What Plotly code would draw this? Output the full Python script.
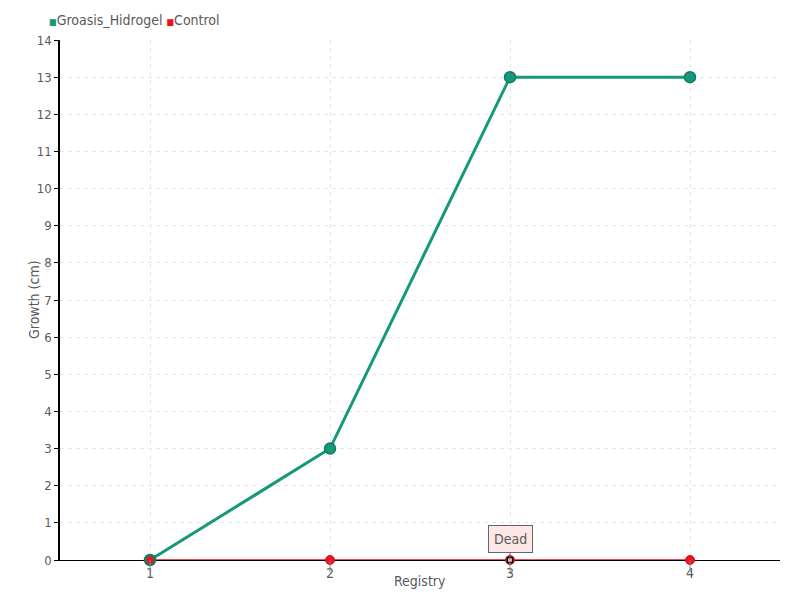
import plotly.graph_objects as go

registry = [1, 2, 3, 4]
groasis = [0, 3, 13, 13]
control = [0, 0, 0, 0]
y_ticks = list(range(0, 15))
dead_index = 2
dead_label = "Dead"
x_title = "Registry"
y_title = "Growth (cm)"

teal = "#16997a"
red = "#ee1122"
font_family = "DejaVu Sans Condensed, sans-serif"
text_color = "#5a5a5a"

fig = go.Figure()

fig.add_trace(go.Scatter(
    x=registry, y=control, mode="lines+markers", name="Control",
    line=dict(color=red, width=1.5),
    marker=dict(color=red, size=9, line=dict(color="#cc1122", width=1)),
    showlegend=False, cliponaxis=False,
))
fig.add_trace(go.Scatter(
    x=registry, y=groasis, mode="lines+markers", name="Groasis_Hidrogel",
    line=dict(color=teal, width=3),
    marker=dict(color=teal, size=11, line=dict(color="#127a60", width=1.5)),
    showlegend=False, cliponaxis=False,
))
fig.add_trace(go.Scatter(
    x=registry[:1], y=control[:1], mode="markers",
    marker=dict(color=red, size=9, line=dict(color="#207a60", width=1.5)),
    showlegend=False, hoverinfo="skip", cliponaxis=False,
))
fig.add_trace(go.Scatter(
    x=[registry[dead_index]], y=[control[dead_index]], mode="markers",
    marker=dict(color="white", size=5, symbol="square", line=dict(color="black", width=1.5)),
    showlegend=False, hoverinfo="skip", cliponaxis=False,
))

fig.add_annotation(
    x=registry[dead_index], y=control[dead_index], text=dead_label, showarrow=True,
    arrowhead=0, arrowwidth=1, arrowcolor="#666666", ax=0, ay=-21,
    bgcolor="#fde6e6", bordercolor="#666666", borderwidth=1, borderpad=5,
    font=dict(family=font_family, size=14, color=text_color),
)

# Legend as text
fig.add_annotation(
    xref="paper", yref="paper", x=-0.018, y=1.0, yshift=20, xanchor="left", yanchor="middle",
    showarrow=False,
    text=(f"<span style='color:{teal};font-size:9px'>■</span>Groasis_Hidrogel "
          f"<span style='color:{red};font-size:9px'>■</span>Control"),
    font=dict(family=font_family, size=14, color=text_color),
)
# Axis titles
fig.add_annotation(
    xref="paper", yref="paper", x=0.5, y=0, yshift=-21, xanchor="center", yanchor="middle",
    showarrow=False, text=x_title, font=dict(family=font_family, size=14, color=text_color),
)
fig.add_annotation(
    xref="paper", yref="paper", x=0, y=0.5, xshift=-26, xanchor="center", yanchor="middle",
    showarrow=False, text=y_title, textangle=-90,
    font=dict(family=font_family, size=14, color=text_color),
)

# x tick marks (pointing down, through the labels)
for r in registry:
    fig.add_shape(type="line", xref="x", yref="paper", x0=r, x1=r,
                  ysizemode="pixel", yanchor=0, y0=0, y1=-12,
                  line=dict(color="#888888", width=1))

grid = dict(showgrid=True, gridcolor="#e6e6e6", griddash="4px,4px", gridwidth=1)

fig.update_layout(
    width=800, height=600,
    margin=dict(l=60, r=20, t=40, b=40, autoexpand=False),
    plot_bgcolor="white", paper_bgcolor="white",
    showlegend=False,
    font=dict(family=font_family, size=14, color=text_color),
    xaxis=dict(range=[0.5, 4.5], tickvals=registry, ticks="",
               showline=True, linecolor="black", linewidth=1,
               zeroline=False, layer="below traces", automargin=False,
               **grid),
    yaxis=dict(range=[0, 14], tickvals=y_ticks, ticks="outside", ticklen=4,
               tickcolor="black", showline=True, linecolor="black", linewidth=1.5,
               zeroline=False, layer="below traces", automargin=False,
               tickfont=dict(size=13),
               **grid),
)

fig.write_html("out.html", post_script="document.body.style.margin='0px';",
               config={"displayModeBar": False})
